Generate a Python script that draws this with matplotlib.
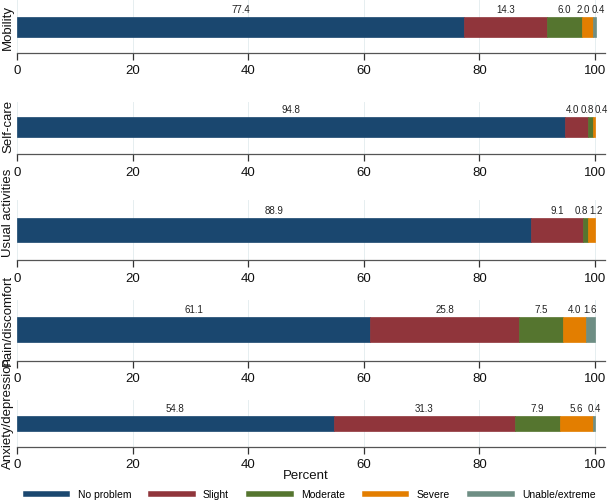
import matplotlib
matplotlib.use("Agg")
import matplotlib.pyplot as plt
from matplotlib.lines import Line2D
import numpy as np

plt.rcParams['font.family'] = ['Liberation Sans', 'DejaVu Sans']

dimensions = ["Mobility", "Self-care", "Usual activities", "Pain/discomfort", "Anxiety/depression"]
levels = ["No problem", "Slight", "Moderate", "Severe", "Unable/extreme"]
no_problem = [77.4, 94.8, 88.9, 61.1, 54.8]
slight = [14.3, 4.0, 9.1, 25.8, 31.3]
moderate = [6.0, 0.8, 0.8, 7.5, 7.9]
severe = [2.0, 0.4, 1.2, 4.0, 5.6]
unable = [0.4, 0.0, 0.0, 1.6, 0.4]
xticks = [0, 20, 40, 60, 80, 100]

colors = ["#1a476f", "#90353b", "#55752f", "#e37e00", "#6e8e84"]

W, H = 609, 504
fig = plt.figure(figsize=(W / 100, H / 100), dpi=100)

# layout in pixels: (panel top, axis line y, bar top, bar bottom, ylabel center)
layout = [
    (0, 53, 17, 37, 28),
    (102, 154, 117, 137, 126),
    (200, 260, 218, 242, 213),
    (300, 361, 317, 342, 320),
    (400, 447, 416, 431, 413),
]
x0_px, x1_px = 17, 605
x100_px = 595
xmax = 100 * (x1_px - x0_px) / (x100_px - x0_px)

series = [no_problem, slight, moderate, severe, unable]
panel_labels = []

for i, name in enumerate(dimensions):
    top, axy, bt, bb, lc = layout[i]
    ax = fig.add_axes([x0_px / W, 1 - axy / H, (x1_px - x0_px) / W, (axy - top) / H])
    bh = bb - bt
    ylo = -0.5 - (axy - bb) / bh
    yhi = 0.5 + (bt - top) / bh
    ax.set_ylim(ylo, yhi)
    ax.set_xlim(0, xmax)
    left = 0.0
    texts = []
    for j, lev in enumerate(levels):
        v = series[j][i]
        if v > 0:
            ax.barh(0, v, left=left, height=1, color=colors[j], edgecolor=colors[j],
                    linewidth=0.5, zorder=3)
            t = ax.text(left + v / 2, 0.5 + 2 / bh, f"{v:.1f}", ha='center', va='bottom',
                        fontsize=7, color='#222222', zorder=4)
            texts.append((t, left + v / 2))
        left += v
    panel_labels.append((ax, texts))
    ax.set_xticks(xticks)
    ax.set_xticklabels([str(t) for t in xticks])
    ax.set_yticks([])
    ax.grid(axis='x', color='#e6eef0', linewidth=0.7, zorder=0)
    for s in ['top', 'right', 'left']:
        ax.spines[s].set_visible(False)
    ax.spines['bottom'].set_color('#555555')
    ax.spines['bottom'].set_linewidth(0.9)
    ax.tick_params(axis='x', direction='out', length=5, width=0.9, color='#333333',
                   labelsize=9.5, pad=4, labelcolor='#111111')
    ax.set_facecolor('none')
    ax.set_ylabel(name, fontsize=9.5, color='#111111')
    ax.yaxis.set_label_coords((8 - x0_px) / (x1_px - x0_px), 1 - (lc - top) / (axy - top))
    ax.yaxis.label.set_va('center')

fig.text(306 / W, 1 - 476 / H, "Percent", ha='center', va='center', fontsize=9.5, color='#111111')

handles = [Line2D([], [], color=c, lw=4) for c in colors]
fig.legend(handles, levels, ncol=5, loc='center', bbox_to_anchor=(0.51, 1 - 495 / H),
           frameon=False, fontsize=7.5, handlelength=4.0, handletextpad=1.0,
           columnspacing=1.9, borderaxespad=0, borderpad=0)

# spread overlapping value labels (cluster centering)
fig.canvas.draw()
renderer = fig.canvas.get_renderer()
px_per_unit = (x1_px - x0_px) / xmax
gap = 1.5
for ax, texts in panel_labels:
    widths = [t.get_window_extent(renderer).width / px_per_unit for t, _ in texts]
    desired = [c for _, c in texts]
    groups = [[k] for k in range(len(texts))]

    def place(g):
        tot = sum(widths[k] for k in g) + gap / px_per_unit * (len(g) - 1)
        mean = np.mean([desired[k] for k in g])
        pos = []
        x = mean - tot / 2
        for k in g:
            pos.append(x + widths[k] / 2)
            x += widths[k] + gap / px_per_unit
        return pos, mean - tot / 2, mean + tot / 2

    changed = True
    while changed:
        changed = False
        for gi in range(len(groups) - 1):
            _, _, r1 = place(groups[gi])
            _, l2, _ = place(groups[gi + 1])
            if r1 > l2:
                groups[gi] = groups[gi] + groups.pop(gi + 1)
                changed = True
                break
    for g in groups:
        pos, _, _ = place(g)
        for k, p in zip(g, pos):
            texts[k][0].set_x(p)

fig.savefig("out.png", dpi=100, facecolor='white')
